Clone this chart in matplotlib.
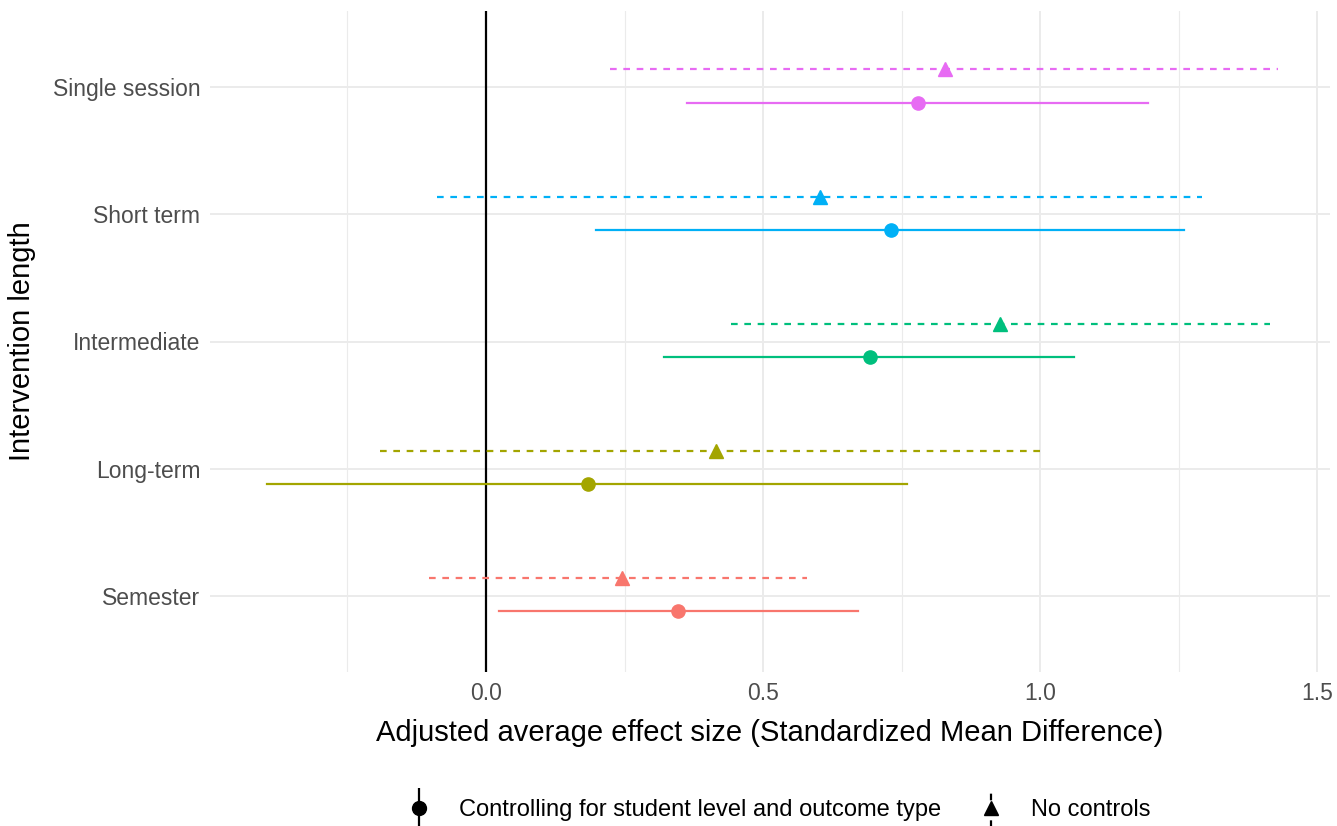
import matplotlib.pyplot as plt
from matplotlib.ticker import MultipleLocator
from matplotlib.legend_handler import HandlerErrorbar
import numpy as np

plt.rcParams['font.family'] = ['Liberation Sans', 'DejaVu Sans']

# categories from bottom to top
lengths = ["Semester", "Long-term", "Intermediate", "Short term", "Single session"]
colors = ["#F8766D", "#A3A500", "#00BF7D", "#00B0F6", "#E76BF3"]

# Controlling for student level and outcome type
ctrl_est = [0.347, 0.184, 0.693, 0.731, 0.780]
ctrl_lo = [0.023, -0.395, 0.321, 0.199, 0.363]
ctrl_hi = [0.671, 0.760, 1.061, 1.260, 1.195]

# No controls
noctrl_est = [0.245, 0.415, 0.928, 0.603, 0.829]
noctrl_lo = [-0.103, -0.191, 0.442, -0.088, 0.224]
noctrl_hi = [0.579, 1.011, 1.415, 1.292, 1.430]

fig = plt.figure(figsize=(13.37, 8.26), dpi=100)
ax = fig.add_axes([210 / 1337, 1 - 672 / 826, 1120 / 1337, 661 / 826])

ypos = np.arange(1, len(lengths) + 1)
for i in range(len(lengths)):
    y_nc = ypos[i] + 0.14
    y_c = ypos[i] - 0.12
    ax.plot([noctrl_lo[i], noctrl_hi[i]], [y_nc, y_nc], color=colors[i], lw=1.6,
            dashes=(3, 3), zorder=3)
    ax.plot(noctrl_est[i], y_nc, marker='^', color=colors[i], ms=10, zorder=4)
    ax.plot([ctrl_lo[i], ctrl_hi[i]], [y_c, y_c], color=colors[i], lw=1.6, zorder=3)
    ax.plot(ctrl_est[i], y_c, marker='o', color=colors[i], ms=9.5, zorder=4)

ax.axvline(0, color='black', lw=1.6, zorder=2)

ax.set_xlim(-0.498, 1.523)
ax.set_ylim(0.4, 5.6)
ax.set_yticks(ypos)
ax.set_yticklabels(lengths)
ax.xaxis.set_major_locator(MultipleLocator(0.5))
ax.xaxis.set_minor_locator(MultipleLocator(0.25))
ax.xaxis.set_major_formatter(plt.FuncFormatter(lambda v, p: f"{v:.1f}"))

ax.grid(True, which='major', color='#EBEBEB', lw=1.4, zorder=0)
ax.grid(True, which='minor', axis='x', color='#EBEBEB', lw=0.8, zorder=0)
ax.set_axisbelow(True)
for s in ax.spines.values():
    s.set_visible(False)
ax.tick_params(which='both', length=0, labelsize=16.5, labelcolor='#4D4D4D', pad=7)

ax.set_xlabel("Adjusted average effect size (Standardized Mean Difference)", fontsize=21, labelpad=10)
ax.set_ylabel("Intervention length", fontsize=21, labelpad=12)

# legend handles with vertical error bars
h1 = ax.errorbar([np.nan], [np.nan], yerr=[1], fmt='o', color='black', ms=10, elinewidth=1.6)
h2 = ax.errorbar([np.nan], [np.nan], yerr=[1], fmt='^', color='black', ms=10, elinewidth=1.6)
h2[2][0].set_linestyle((0, (3, 3)))
fig.legend([h1, h2], ["Controlling for student level and outcome type", "No controls"],
           loc='center', bbox_to_anchor=(0.5815, 1 - 810 / 826), ncol=2, frameon=False,
           fontsize=17, handlelength=1.2, columnspacing=1.5, handletextpad=1.1,
           handler_map={type(h1): HandlerErrorbar(yerr_size=0.85)})

fig.savefig("out.png", dpi=100)
